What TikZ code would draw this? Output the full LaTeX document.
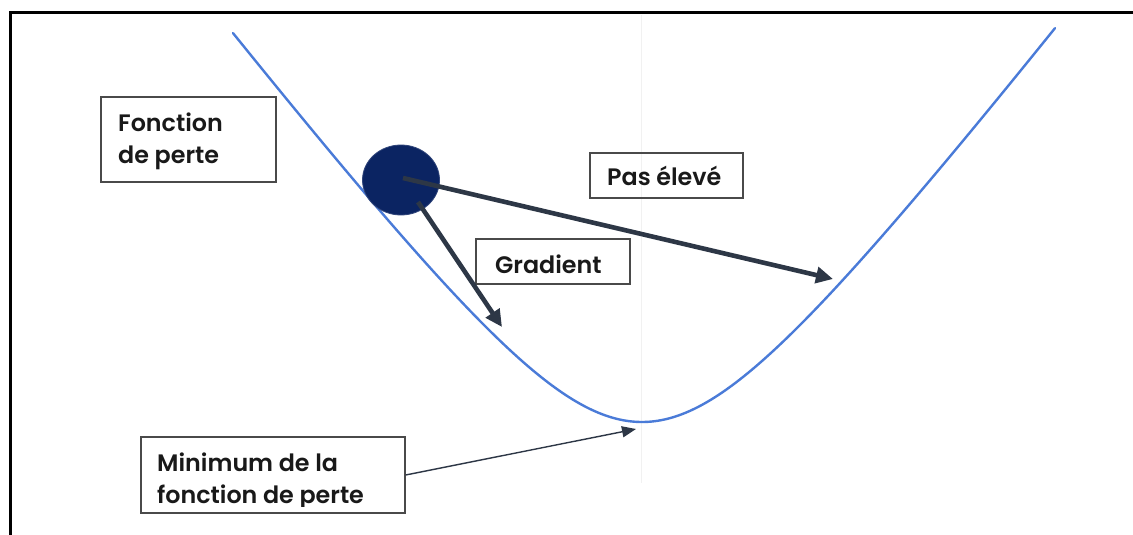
\documentclass[tikz,border=0pt]{standalone}
\usepackage{fontspec}
\setmainfont{Poppins SemiBold}
\usetikzlibrary{arrows.meta,shapes.geometric}
\definecolor{curveblue}{HTML}{4A7BD8}
\definecolor{ballnavy}{HTML}{0B2462}
\definecolor{arrowdark}{HTML}{2D3746}
\definecolor{boxgray}{HTML}{4A4A4A}
\definecolor{ghost}{HTML}{F1F1F1}
\begin{document}
\begin{tikzpicture}[x=1pt,y=-1pt,
  labelbox/.style={draw=boxgray, line width=1.3pt, inner sep=0pt, fill=none},
  labeltext/.style={anchor=base west, inner sep=0pt, text=black!90, font=\fontsize{23.8pt}{30pt}\selectfont},
  bigarrow/.style={draw=arrowdark, line width=4.6pt, -{Triangle[length=17pt,width=16pt]}},
  thinarrow/.style={draw=arrowdark, line width=1.4pt, -{Triangle[length=14pt,width=11pt]}},
  frameline/.style={draw=black, line width=3pt}
]
\useasboundingbox (0,0) rectangle (1133,535);
\fill[white] (0,0) rectangle (1133,535);

% faint vertical guide
\draw[ghost, line width=1pt] (641,15) -- (641,483);

% frame
\coordinate (fbl) at (10.5,535);
\coordinate (ftl) at (10.5,13);
\coordinate (ftr) at (1133,13);
\draw[frameline] (fbl) -- (ftl) -- (ftr);

% loss curve
\draw[curveblue, line width=2.4pt, line cap=round, domain=233:1055, samples=241, variable=\x]
  plot (\x, {422 - 1.3*(100*sqrt(((\x-642)/100)^2 + 1.69) - 130)});

% boxes
\node[labelbox, minimum width=175pt, minimum height=85pt] (fbox) at (188.5,139.5) {};
\node[labelbox, minimum width=153pt, minimum height=45pt] (pbox) at (666.5,175.5) {};
\node[labelbox, minimum width=154pt, minimum height=45pt] (gbox) at (553,261.5) {};
\node[labelbox, minimum width=264pt, minimum height=76pt] (mbox) at (273,475) {};

% texts
\node[labeltext] (ft1) at (118,131) {Fonction};
\node[labeltext] (ft2) at (118,163) {de perte};
\node[labeltext] (pt) at (607,185) {Pas élevé};
\node[labeltext] (gt) at (495,273) {Gradient};
\node[labeltext] (mt1) at (157,471) {Minimum de la};
\begin{scope}
  \clip (141,435) rectangle (405,506);
  \node[labeltext] (mt2) at (157,503) {fonction de perte};
\end{scope}

% ball
\node[ellipse, fill=ballnavy, draw=ballnavy!85!white, line width=0.8pt,
      minimum width=77pt, minimum height=70pt, inner sep=0pt] (ball) at (401,180) {};
\coordinate (bstart) at (403,178);
\coordinate (gstart) at (418,202);
\coordinate (ptip) at (833,279);
\coordinate (gtip) at (502,327);
\coordinate (mtip) at (636,429);

% arrows
\draw[bigarrow] (bstart) -- (ptip);
\draw[bigarrow] (gstart) -- (gtip);
\draw[thinarrow] (mbox.east) -- (mtip);
\end{tikzpicture}
\end{document}
